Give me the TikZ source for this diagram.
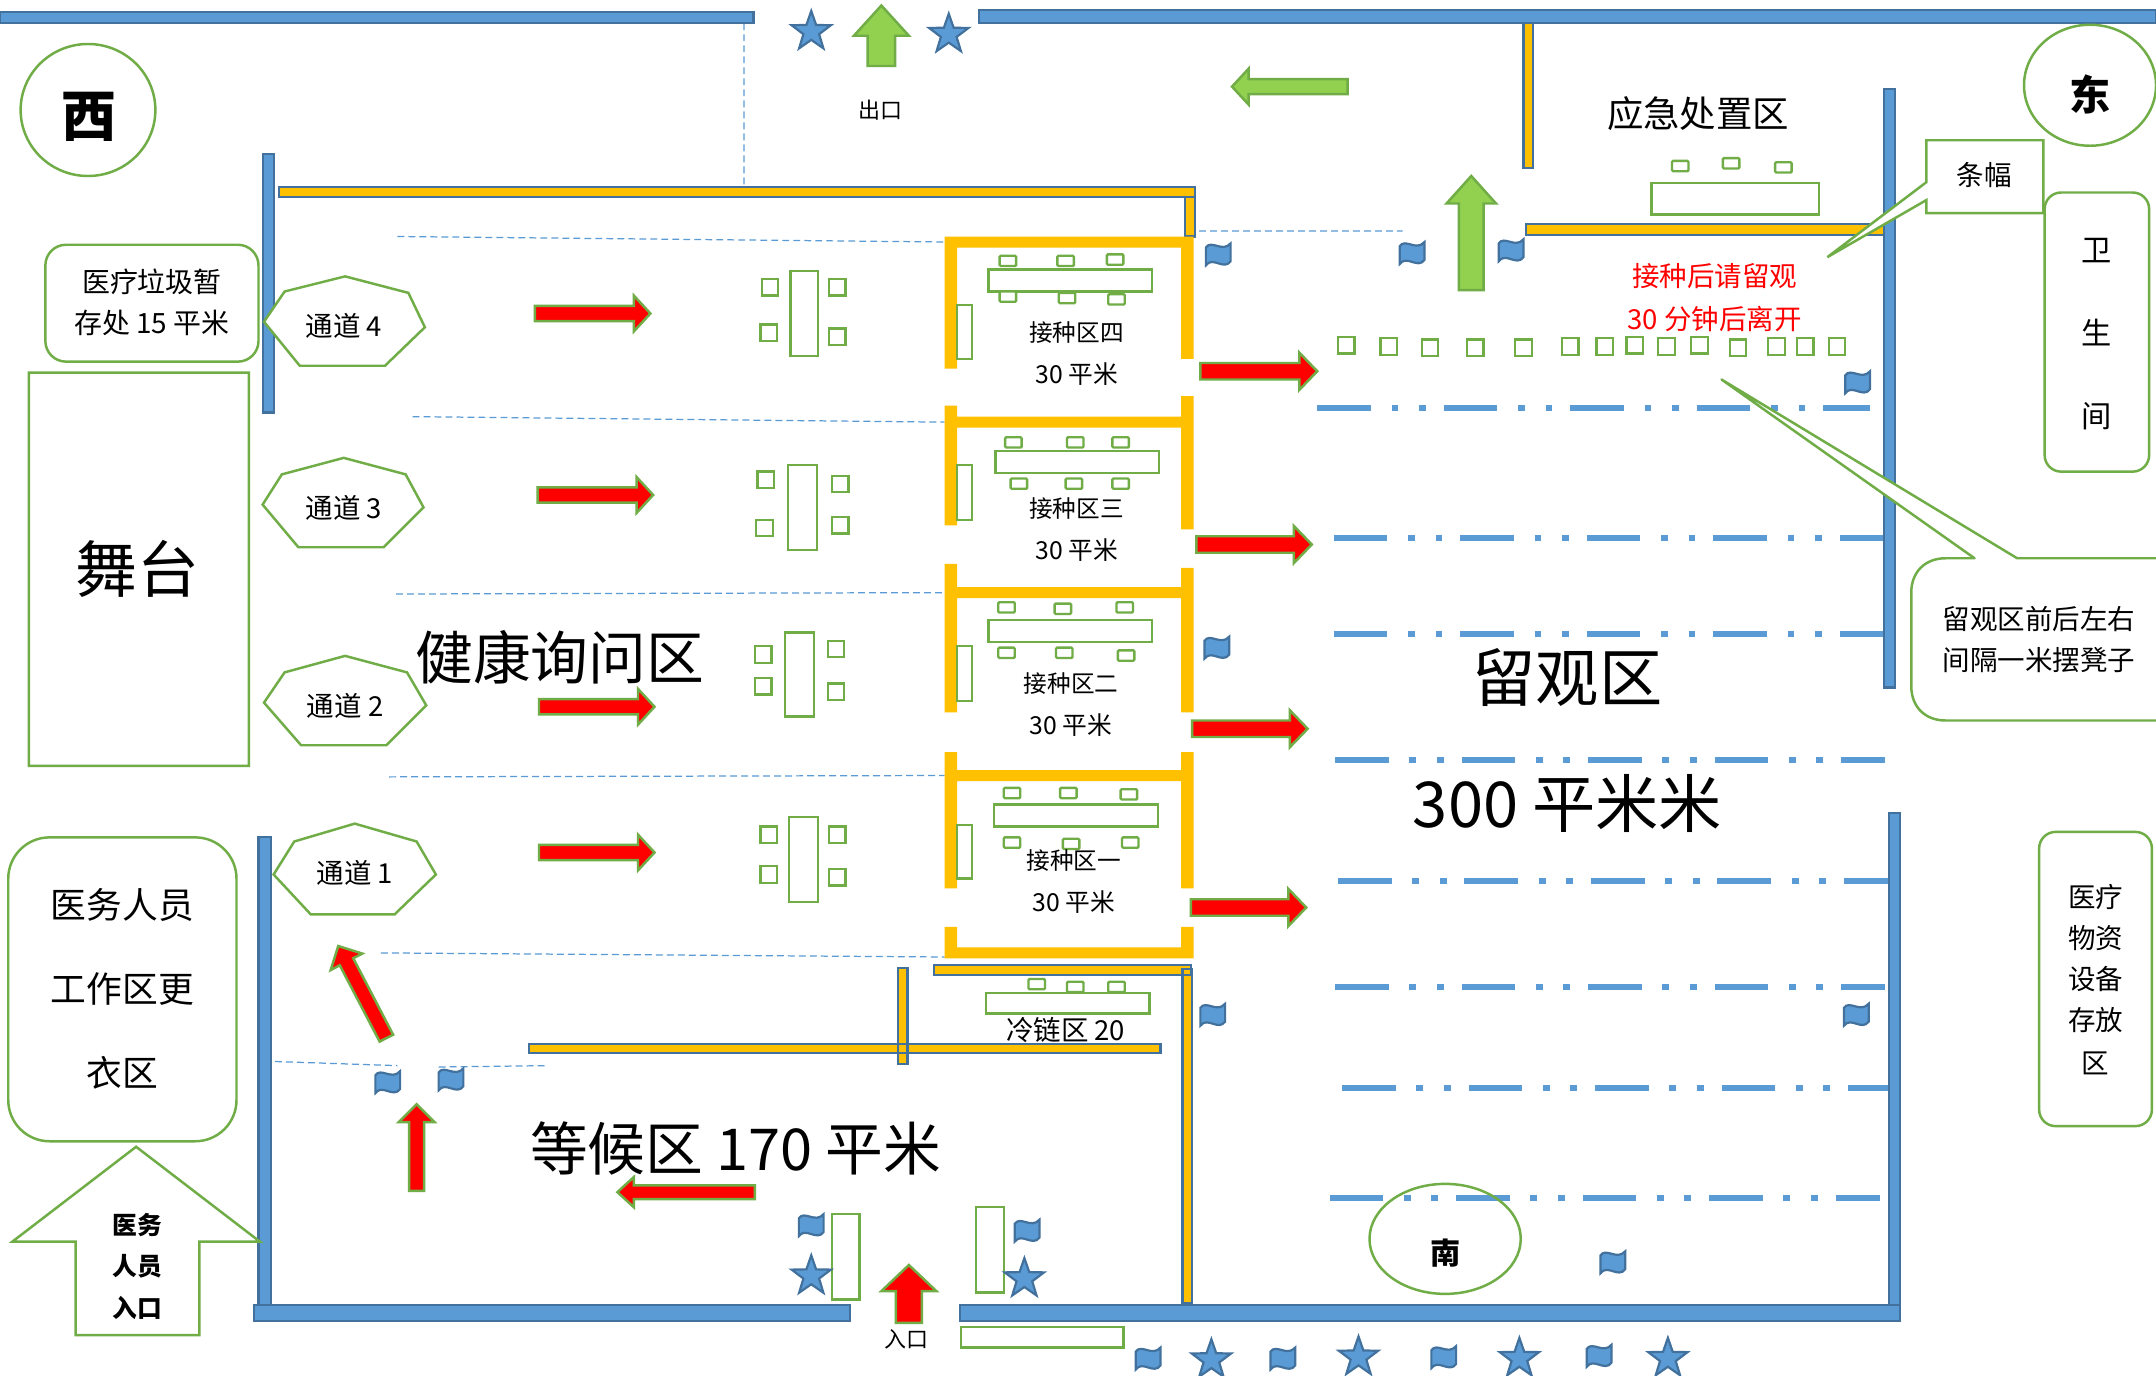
\documentclass[tikz,border=0pt]{standalone}
\usepackage{fontspec}
\newfontfamily\cjkf{Noto Sans CJK SC}
\definecolor{wallblue}{HTML}{5B9BD5}
\definecolor{wallline}{HTML}{41719C}
\definecolor{wallorange}{HTML}{FFC000}
\definecolor{frameg}{HTML}{70AD47}
\definecolor{arrowg}{HTML}{92D050}
\tikzset{
 bluewall/.style={fill=wallblue,draw=wallline,line width=1.6pt},
 edgedorange/.style={fill=wallorange,draw=wallline,line width=1.6pt},
 boothwall/.style={fill=wallorange,draw=none},
 furn/.style={draw=frameg,line width=1.7pt,fill=white},
 frameb/.style={draw=frameg,line width=1.8pt,fill=white},
 redarrow/.style={fill=red,draw=frameg,line width=1.8pt},
 greenarrow/.style={fill=arrowg,draw=frameg,line width=1.8pt},
 seatline/.style={draw=wallblue,line width=4.2pt,dash pattern=on 39pt off 15pt on 5pt off 15pt on 5pt off 13pt},
 thindash/.style={draw=wallblue,line width=.9pt,dash pattern=on 5pt off 3pt},
 lab/.style={inner sep=0pt,text=black,align=center}
}
\newcommand\lbl[5]{\node[lab] (#1) at (#2,#3) {\cjkf\fontsize{#4}{#4}\selectfont #5};}
\newcommand\blbl[5]{\node[lab] (#1) at (#2,#3) {\cjkf\bfseries\fontsize{#4}{#4}\selectfont #5};}
\begin{document}
\begin{tikzpicture}[x=1pt,y=-1pt]
\path[use as bounding box,fill=white] (0,0) rectangle (1568,1000.7);
% thin dashed guide lines
\draw[thindash] (541,17)--(541,136) (289,172)--(687,176) (872,168)--(1020,168) (300,303)--(687,307)
  (288,432)--(687,431) (283,565)--(687,564) (277,693)--(687,696) (200,772)--(289,775) (319,776)--(398,775);
% seat lines
\draw[seatline] (958,297)--(1360,297) (970,391)--(1370,391) (970,461)--(1370,461) (971,553)--(1371,553)
  (973,641)--(1373,641) (971,718)--(1371,718) (976,791)--(1376,791) (967,871)--(1367,871);
% blue walls
\draw[bluewall] foreach \xa/\ya/\xb/\yb in {0/9/548/17,712/7/1568/17,191/112/199/300,188/609/197/950,1370/65/1378/500,1374/591/1382/950} {(\xa,\ya) rectangle (\xb,\yb)};
% orange walls with blue edge
\draw[edgedorange] foreach \xa/\ya/\xb/\yb in {203/136/869/143,862/143/869/172,1108/17/1115/122,1110/163/1370/171,653/704/660/774,385/759/844/766,679/702/866/709,860/705/867/948} {(\xa,\ya) rectangle (\xb,\yb)};
\draw[bluewall] foreach \xa/\ya/\xb/\yb in {185/949/618/961,698/949/1382/961} {(\xa,\ya) rectangle (\xb,\yb)};
% booths
\fill[boothwall] foreach \xa/\ya/\xb/\yb in {687/172/868/180,687/172/696/268,859/172/868/261,
  687/295/696/382,859/288/868/385,696/303/859/311,
  687/410/696/518,859/413/868/518,696/427/859/435,
  687/547/696/646,859/547/868/646,696/560/859/568,
  687/674/696/697,859/674/868/697,687/689/868/697} {(\xa,\ya) rectangle (\xb,\yb)};
% furniture
\draw[furn] foreach \xa/\ya/\xb/\yb in {719/196/838/212,724/328/843/344,719/451/838/467,723/585/842/601,717/722/836/737,
  696/222/707/261,696/338/707/378,696/470/707/510,696/600/707/639,
  1201/133/1323/156,605/883/625/945,710/878/730/940,699/965/817/980,
  575/197/595/259,573/338/594/400,571/460/592/521,574/594/595/656} {(\xa,\ya) rectangle (\xb,\yb)};
\draw[furn,rounded corners=.8pt] foreach \xa/\ya in {727/186,769/186,805/185,727/212,770/213,806/214,
  731/318,776/318,809/318,735/348,775/348,809/348,
  726/438,767/439,812/438,726/471,768/471,813/473,
  730/573,771/573,815/574,730/609,773/610,816/609,
  748/712,776/714,806/714,1216/117,1253/115,1291/118} {(\xa,\ya) rectangle ++(12,7.5)};
\draw[furn] foreach \xa/\ya in {554/203,603/203,553/236,603/239,551/343,605/346,550/378,605/376,
  549/470,602/466,549/493,602/497,553/601,603/601,553/630,603/632,
  973/245,1004/246,1034/247,1067/247,1102/247,1136/246,1161/246,1183/245,1206/246,1230/245,1258/247,1286/246,1307/246,1330/246} {(\xa,\ya) rectangle ++(12,12)};
% red arrows pointing right: tail x, y, length
\draw[redarrow] foreach \xa/\ya/\ln in {389/228/84,391/360/84,392/514/84,392/620/84} {
  (\xa,\ya-5.5)--(\xa+\ln-12,\ya-5.5)--(\xa+\ln-12,\ya-13)--(\xa+\ln,\ya)--(\xa+\ln-12,\ya+13)--(\xa+\ln-12,\ya+5.5)--(\xa,\ya+5.5)--cycle};
\draw[redarrow] foreach \xa/\ya/\ln in {873/270/85,870/396/84,867/530/84,866/660/84} {
  (\xa,\ya-6)--(\xa+\ln-13,\ya-6)--(\xa+\ln-13,\ya-13.5)--(\xa+\ln,\ya)--(\xa+\ln-13,\ya+13.5)--(\xa+\ln-13,\ya+6)--(\xa,\ya+6)--cycle};
\draw[redarrow] (285.9,752.5)--(256.9,696.9)--(263.5,693.5)--(246,688)--(240.5,705.5)--(247.1,702)--(276.1,757.5)--cycle
  (297.5,866)--(297.5,816)--(290,816)--(303,803)--(316,816)--(308.5,816)--(308.5,866)--cycle
  (549,862)--(461,862)--(461,856)--(449,867)--(461,878)--(461,872)--(549,872)--cycle
  (651.5,962)--(651.5,939)--(641,939)--(661,920)--(681,939)--(670.5,939)--(670.5,962)--cycle;
\draw[greenarrow] (631,48)--(631,26)--(621,26)--(641,4)--(661,26)--(651,26)--(651,48)--cycle
  (980,57.5)--(908,57.5)--(908,50)--(896,63)--(908,76)--(908,68.5)--(980,68.5)--cycle
  (1061,211)--(1061,148)--(1052,148)--(1070,128)--(1088,148)--(1079,148)--(1079,211)--cycle;
% flags
\draw[bluewall] foreach \xa/\ya in {886/185,1027/184,1099/182,1351/278,885/471,882/738,1350/738,282/787,328/785,590/891,747/895,1173/918,835/988,933/988,1050/987,1163/986}
 {(\xa-9,\ya-5) .. controls (\xa-5,\ya-11) and (\xa+3,\ya-1) .. (\xa+9,\ya-8) -- (\xa+9,\ya+5)
   .. controls (\xa+4,\ya+12) and (\xa-4,\ya+1) .. (\xa-9,\ya+8) -- cycle};
% stars
\draw[bluewall] foreach \xa/\ya in {590/23,690/25,590/928,745/930,881/989,988/987,1105/988,1213/988}
 {(\xa,\ya-15)--(\xa+3.53,\ya-4.85)--(\xa+14.27,\ya-4.64)--(\xa+5.71,\ya+1.85)--(\xa+8.82,\ya+12.14)--(\xa,\ya+6)--(\xa-8.82,\ya+12.14)--(\xa-5.71,\ya+1.85)--(\xa-14.27,\ya-4.64)--(\xa-3.53,\ya-4.85)--cycle};
% frames
\draw[frameb] (64,80) ellipse (49 and 48) (1520,62) ellipse (48 and 44);
\draw[frameb,fill=none] (1051,901) ellipse (55 and 40);
\draw[frameb] (21,271) rectangle (181,557)
  (99,834)--(189,903)--(145,903)--(145,971)--(55,971)--(55,903)--(9,903)--cycle;
\draw[frameb,rounded corners=15pt] (33,178) rectangle (188,263);
\draw[frameb,rounded corners=30pt] (6,609) rectangle (172,830);
\draw[frameb,rounded corners=12pt] (1487,140) rectangle (1563,343) (1483,605) rectangle (1565,819);
\draw[frameb] (1401,102)--(1486,102)--(1486,155)--(1401,155)--(1401,145.5)--(1329,187)--(1401,132.5)--cycle;
\draw[frameb,line join=round] (1415,406)--(1436,406)--(1252,276)--(1467,406)--(1580,406)--(1580,524)--(1415,524)
  .. controls (1400,524) and (1390,514) .. (1390,499)--(1390,431) .. controls (1390,416) and (1400,406) .. (1415,406)--cycle;
% channels
\draw[frameb] (192,234)--(207,212)--(251,201)--(297,213)--(309,238)--(280,266)--(218,266)--cycle
 (191,367)--(205,345)--(250,333)--(295,345)--(308,369)--(279,398)--(217,398)--cycle
 (192,511)--(207,489)--(251,477)--(296,489)--(310,513)--(281,542)--(219,542)--cycle
 (199,636)--(214,612)--(258,599)--(303,612)--(317,636)--(287,665)--(226,665)--cycle;
% labels
\blbl{west}{65}{85}{40}{西}
\blbl{east}{1520}{69}{30}{东}
\blbl{south}{1051}{911}{22}{南}
\lbl{exitl}{640}{80}{16}{出口}
\lbl{emerg}{1235}{83}{26.5}{应急处置区}
\lbl{banner}{1443}{127}{20}{条幅}
\lbl{wc1}{1525}{182}{22}{卫}
\lbl{wc2}{1525}{242}{22}{生}
\lbl{wc3}{1525}{303}{22}{间}
\lbl{obs1}{1247}{201}{20}{\color{red}接种后请留观}
\lbl{obs2}{1247}{232}{20}{\color{red}30 分钟后离开}
\lbl{waste1}{110.5}{205}{20.3}{医疗垃圾暂}
\lbl{waste2}{110.5}{235}{20.3}{存处 15 平米}
\lbl{ch4}{250}{237}{20}{通道 4}
\lbl{ch3}{250}{369}{20}{通道 3}
\lbl{ch2}{251}{513}{20}{通道 2}
\lbl{ch1}{258}{635}{20}{通道 1}
\lbl{b4a}{783}{242}{17.2}{接种区四}
\lbl{b4b}{783}{272}{18}{30 平米}
\lbl{b3a}{783}{370}{17.2}{接种区三}
\lbl{b3b}{783}{400}{18}{30 平米}
\lbl{b2a}{779}{497}{17.2}{接种区二}
\lbl{b2b}{779}{527}{18}{30 平米}
\lbl{b1a}{781}{626}{17.2}{接种区一}
\lbl{b1b}{781}{656}{18}{30 平米}
\lbl{cold}{775}{749}{20}{冷链区 20}
\lbl{health}{407}{478}{42}{健康询问区}
\lbl{obsarea}{1140}{493}{46}{留观区}
\lbl{obssize}{1140}{584}{46}{300 平米米}
\lbl{stage}{100}{414}{45}{舞台}
\lbl{waitarea}{535}{835}{42}{等候区 170 平米}
\lbl{staff1}{89}{658}{26}{医务人员}
\lbl{staff2}{89}{719}{26}{工作区更}
\lbl{staff3}{89}{780}{26}{衣区}
\lbl{sup1}{1524}{652}{20}{医疗}
\lbl{sup2}{1524}{682}{20}{物资}
\lbl{sup3}{1524}{712}{20}{设备}
\lbl{sup4}{1524}{742}{20}{存放}
\lbl{sup5}{1524}{773}{20}{区}
\lbl{note1}{1483}{450}{20}{留观区前后左右}
\lbl{note2}{1483}{480}{20}{间隔一米摆凳子}
\blbl{sent1}{100}{891}{18}{医务}
\blbl{sent2}{100}{921}{18}{人员}
\blbl{sent3}{100}{951}{18}{入口}
\lbl{ent}{659}{974}{16}{入口}
\end{tikzpicture}
\end{document}
